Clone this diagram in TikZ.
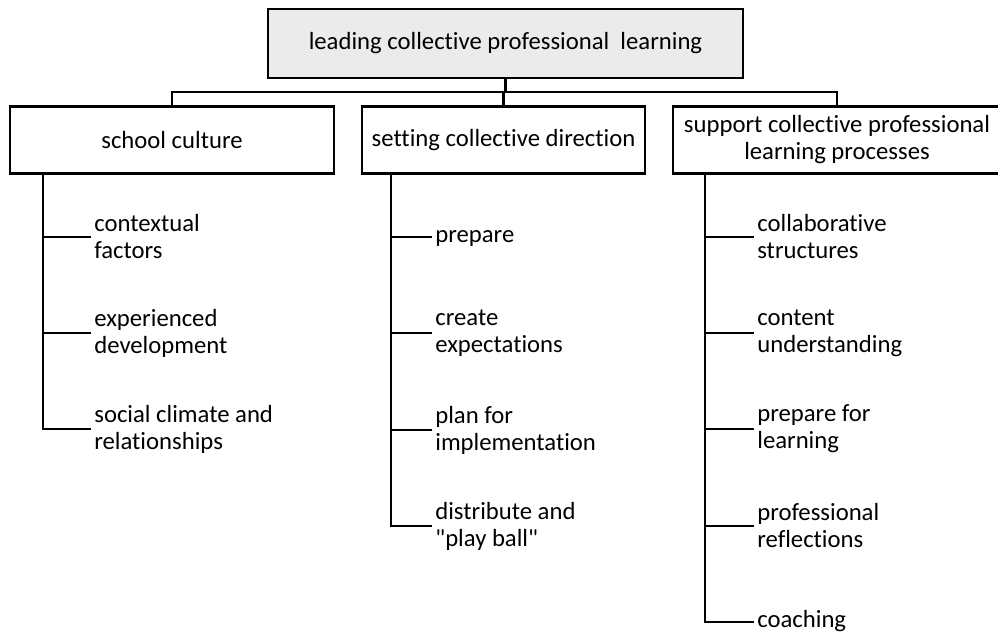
\documentclass[tikz,border=0pt]{standalone}
\usepackage{fontspec}
\setmainfont{Carlito}
\newfontfamily\bodyfont{Carlito}[Ligatures=NoCommon]
\begin{document}
\begin{tikzpicture}[x=1pt,y=-1pt,
  line width=2.7pt,
  every node/.style={font=\bodyfont\fontsize{24.7}{27}\selectfont},
  headbox/.style={draw, fill=black!8, minimum width=475pt, minimum height=69pt, inner sep=0pt},
  catbox/.style={draw, fill=white, minimum height=67pt, inner sep=0pt, align=center},
  leaf/.style={anchor=west, inner xsep=2pt, inner ysep=0pt, align=left},
  oneline/.style={text height=17pt, text depth=5.5pt}]
\useasboundingbox (0,0) rectangle (998,633);

% root
\node[headbox] (top) at (505.5,43.5) {leading collective professional\ \ learning};

% categories
\node[catbox, minimum width=324pt] (sc)  at (172,140)   {school culture};
\node[catbox, minimum width=283pt] (dir) at (503.5,140) {setting collective direction};
\node[catbox, minimum width=328pt] (sp)  at (837,140)   {support collective professional\\learning processes};

% connectors from root to categories
\coordinate (hub) at (505.5,92);
\draw (top.south) -- (hub);
\draw (sc.north) |- (hub) -| (sp.north);
\draw (dir.north) -- (dir.north |- hub);

% school culture items
\coordinate (s0) at (43,174);
\node[leaf] (s1) at (91,237) {contextual\\factors};
\node[leaf] (s2) at (91,333) {experienced\\development};
\node[leaf] (s3) at (91,429) {social climate and\\relationships};
\draw (s0) |- (s3.west);
\draw (s1.west -| s0) -- (s1.west);
\draw (s2.west -| s0) -- (s2.west);

% direction items
\coordinate (d0) at (391,174);
\node[leaf, oneline] (d1) at (432,237) {prepare};
\node[leaf] (d2) at (432,333) {create\\expectations};
\node[leaf] (d3) at (432,430) {plan for\\implementation};
\node[leaf] (d4) at (432,526) {distribute and\\"play ball"};
\draw (d0) |- (d4.west);
\draw (d1.west -| d0) -- (d1.west);
\draw (d2.west -| d0) -- (d2.west);
\draw (d3.west -| d0) -- (d3.west);

% support items
\coordinate (p0) at (705,174);
\node[leaf] (p1) at (754,237) {collaborative\\structures};
\node[leaf] (p2) at (754,333) {content\\understanding};
\node[leaf] (p3) at (754,429) {prepare for\\learning};
\node[leaf] (p4) at (754,526) {professional\\reflections};
\node[leaf, oneline] (p5) at (754,622) {coaching};
\draw (p0) |- (p5.west);
\draw (p1.west -| p0) -- (p1.west);
\draw (p2.west -| p0) -- (p2.west);
\draw (p3.west -| p0) -- (p3.west);
\draw (p4.west -| p0) -- (p4.west);
\end{tikzpicture}
\end{document}
